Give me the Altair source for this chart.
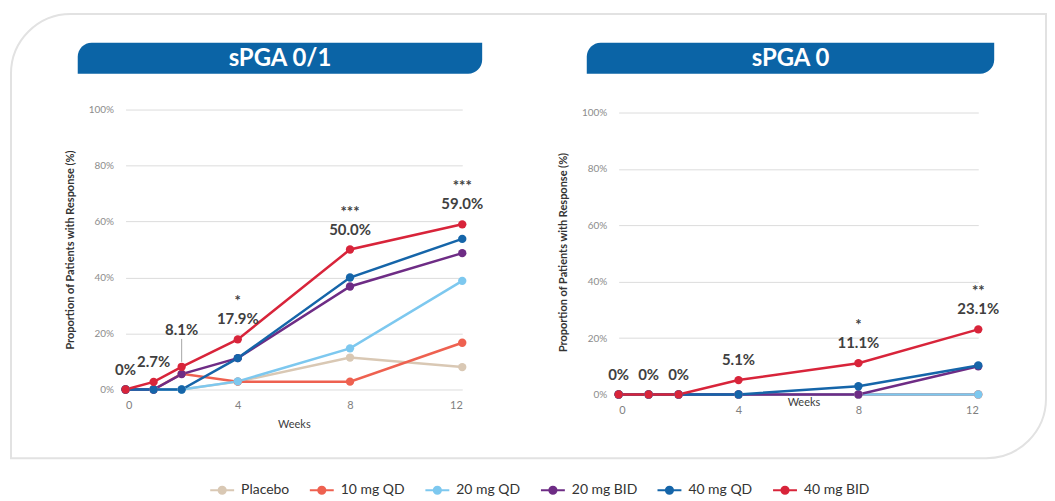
import altair as alt
import pandas as pd

# ---------------- data ----------------
weeks = [0, 1, 2, 4, 8, 12]
series_names = ["Placebo", "10 mg QD", "20 mg QD", "20 mg BID", "40 mg QD", "40 mg BID"]
series_colors = ["#d9c8b4", "#ee6150", "#7dc8ef", "#6e2c85", "#1565a9", "#d8243a"]

panel_titles = ["sPGA 0/1", "sPGA 0"]

# sPGA 0/1 (%)
spga01_placebo = [0, 0, 0, 2.8, 11.4, 8.0]
spga01_10qd = [0, 0, 5.6, 2.8, 2.8, 16.7]
spga01_20qd = [0, 0, 0, 2.9, 14.7, 38.8]
spga01_20bid = [0, 0, 5.5, 11.2, 36.8, 48.7]
spga01_40qd = [0, 0, 0, 11.2, 40.0, 53.8]
spga01_40bid = [0, 2.7, 8.1, 17.9, 50.0, 59.0]

# sPGA 0 (%)
spga0_placebo = [0, 0, 0, 0, 0, 0]
spga0_10qd = [0, 0, 0, 0, 0, 0]
spga0_20qd = [0, 0, 0, 0, 0, 0]
spga0_20bid = [0, 0, 0, 0, 0, 10.0]
spga0_40qd = [0, 0, 0, 0, 2.9, 10.3]
spga0_40bid = [0, 0, 0, 5.1, 11.1, 23.1]

# annotations (on the 40 mg BID series)
labels01_text = ["0%", "2.7%", "8.1%", "17.9%", "50.0%", "59.0%"]
labels01_stars = ["", "", "", "*", "***", "***"]
labels0_text = ["0%", "0%", "0%", "5.1%", "11.1%", "23.1%"]
labels0_stars = ["", "", "", "", "*", "**"]
leader_labels01 = ["8.1%"]
leader_labels0 = []

# ---------------- helpers ----------------
FONT = "Lato"


def long_df(values_by_series):
    rows = []
    for i, (name, vals) in enumerate(zip(series_names, values_by_series)):
        for w, v in zip(weeks, vals):
            rows.append({"series": name, "week": w, "value": v, "k": i})
    return pd.DataFrame(rows)


def label_df(values, texts, stars, leaders):
    return pd.DataFrame({
        "week": weeks,
        "value": values,
        "text": texts,
        "stars": stars,
        "leader": [t in leaders for t in texts],
    })


legend_path = ("M-3,0L3,0"
               "M-0.9,0A0.9,0.9,0,1,0,0.9,0A0.9,0.9,0,1,0,-0.9,0Z"
               "M-0.3,0A0.3,0.3,0,1,0,0.3,0A0.3,0.3,0,1,0,-0.3,0Z")

color_enc = alt.Color(
    "series:N",
    sort=series_names,
    scale=alt.Scale(domain=series_names, range=series_colors),
    legend=alt.Legend(
        title=None,
        orient="none",
        legendX=90,
        legendY=375,
        direction="horizontal",
        symbolType=legend_path,
        symbolSize=64,
        symbolStrokeWidth=2,
        symbolOpacity=1,
        labelFont=FONT,
        labelFontSize=14,
        labelColor="#333333",
        labelOffset=12,
        columnPadding=16,
    ),
)


def panel(title, values_by_series, labels, width, height, ydomain, banner, weeks_title_y, card=False):
    df = long_df(values_by_series)
    x = alt.X(
        "week:Q",
        scale=alt.Scale(domain=[0, 12], nice=False),
        axis=alt.Axis(
            values=[0, 4, 8, 12], grid=False, domain=False, ticks=False, tickSize=0,
            labelPadding=10, labelFont=FONT, labelFontSize=11, labelColor="#7f7f7f",
            title="Weeks", titleFont=FONT, titleFontSize=11, titleFontWeight="normal",
            titleColor="#404040", titleX=width / 2 + (5 if weeks_title_y < 20 else 0),
            titleY=weeks_title_y, titleBaseline="middle",
        ),
    )
    y = alt.Y(
        "value:Q",
        scale=alt.Scale(domain=ydomain, nice=False),
        axis=alt.Axis(
            values=[0, 20, 40, 60, 80, 100], labelExpr="datum.value + '%'",
            grid=True, gridColor="#dcdcdc", gridWidth=1, domain=False, ticks=False, tickSize=0,
            labelPadding=12, labelFont=FONT, labelFontSize=10, labelColor="#8c8c8c",
            title="Proportion of Patients with Response (%)", titleFont=FONT,
            titleFontSize=11, titleFontWeight="bold", titleColor="#333333",
            titleX=-55, titleY=height / 2, titleAngle=270, titleAlign="center",
            titleBaseline="middle",
        ),
    )
    base = alt.Chart(df)
    lines = base.mark_line(strokeWidth=2.5).encode(x=x, y=y, color=color_enc, order="week:Q")
    points = base.mark_point(filled=True, size=70, opacity=1).encode(
        x=x, y=y, color=color_enc, order="k:Q"
    )

    lab = alt.Chart(labels)
    txt_style = dict(font=FONT, fontWeight="bold", fontSize=15, color="#404040", baseline="middle")
    normal_labels = lab.transform_filter("!datum.leader").mark_text(dy=-20, **txt_style).encode(
        x="week:Q", y="value:Q", text="text:N"
    )
    leader_labels = lab.transform_filter("datum.leader").mark_text(dy=-37, **txt_style).encode(
        x="week:Q", y="value:Q", text="text:N"
    )
    leader_rules = lab.transform_filter("datum.leader").mark_rule(
        color="#a6a6a6", strokeWidth=1, yOffset=-5, y2Offset=-28
    ).encode(x="week:Q", y="value:Q", y2="value:Q")
    stars = lab.mark_text(dy=-38, font=FONT, fontWeight="bold", fontSize=15, color="#404040",
                          baseline="middle").encode(x="week:Q", y="value:Q", text="stars:N")

    tdf = pd.DataFrame({"title": [title]})
    bx0, bx1 = banner
    banner_rect = alt.Chart(tdf).mark_rect(
        color="#0b64a6", cornerRadiusTopLeft=14, cornerRadiusBottomRight=14
    ).encode(x=alt.value(bx0), x2=alt.value(bx1), y=alt.value(-67), y2=alt.value(-36))
    banner_text = alt.Chart(tdf).mark_text(
        font=FONT, fontWeight="bold", fontSize=24, color="white", align="center", baseline="middle"
    ).encode(x=alt.value((bx0 + bx1) / 2), y=alt.value(-51), text="title:N")

    layers = []
    if card:
        layers.append(
            alt.Chart(tdf).mark_rect(
                cornerRadiusTopLeft=60, cornerRadiusBottomRight=60,
                fill="white", fillOpacity=0, stroke="#e2e2e2", strokeWidth=2
            ).encode(x=alt.value(-115), x2=alt.value(924), y=alt.value(-96), y2=alt.value(350))
        )
    layers += [banner_rect, banner_text, lines, points, leader_rules, leader_labels,
               normal_labels, stars]
    return alt.layer(*layers).properties(width=width, height=height)


left = panel(
    panel_titles[0],
    [spga01_placebo, spga01_10qd, spga01_20qd, spga01_20bid, spga01_40qd, spga01_40bid],
    label_df(spga01_40bid, labels01_text, labels01_stars, leader_labels01),
    338, 281, [0, 100], (-48, 358), 35, card=True,
)
right = panel(
    panel_titles[1],
    [spga0_placebo, spga0_10qd, spga0_20qd, spga0_20bid, spga0_40qd, spga0_40bid],
    label_df(spga0_40bid, labels0_text, labels0_stars, leader_labels0),
    361, 286, [0, 101.06], (-32, 377), 8,
)

chart = alt.hconcat(left, right, spacing=157, bounds="flush").properties(
    padding={"left": 2, "top": 4, "right": 0, "bottom": 0},
    background="white",
).configure_view(strokeWidth=0)

chart.save("out.html", embed_options={"renderer": "svg", "actions": False})
